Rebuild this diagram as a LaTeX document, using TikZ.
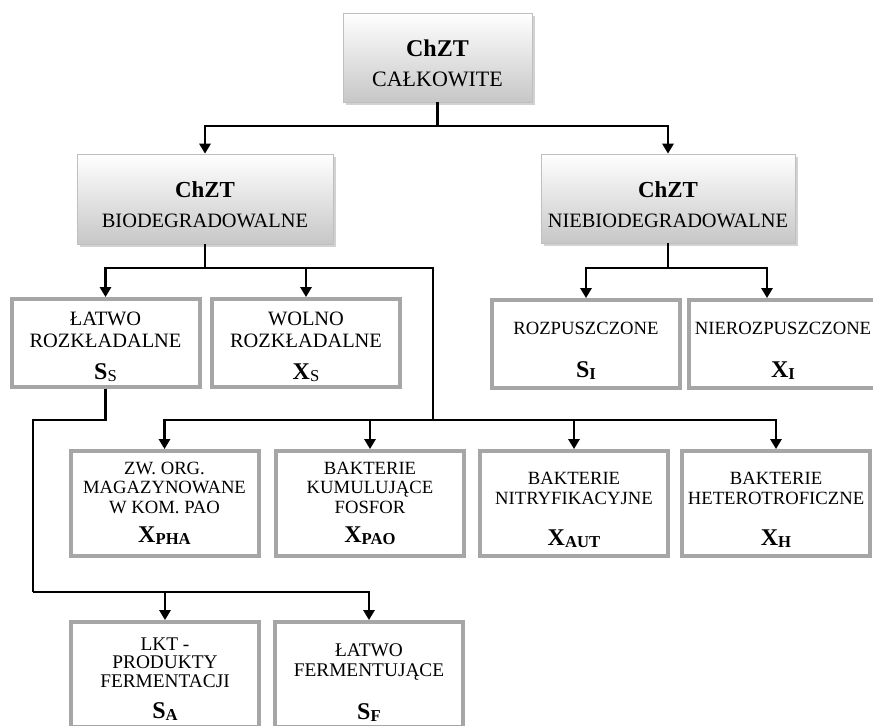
\documentclass[tikz,border=0pt]{standalone}
\usepackage{fontspec}
\setmainfont{Liberation Serif}
\usetikzlibrary{arrows.meta,shadows}

\newcommand{\symb}[2]{{\fontsize{18}{18}\selectfont\bfseries #1\raisebox{-1.5pt}{\fontsize{12.5}{12.5}\selectfont #2}}}

\begin{document}
\begin{tikzpicture}[x=0.75pt,y=-0.75pt,
        head/.style={draw=black!25, line width=0.6pt, top color=white, bottom color=black!22,
            drop shadow={shadow xshift=2pt, shadow yshift=-2pt, fill=black!35},
            align=center, inner sep=0pt},
        box/.style={draw=black!35, line width=3pt, fill=white, align=center, inner sep=0pt,
            minimum width=141pt},
        link/.style={line width=1.6pt},
        arr/.style={link, -{Triangle[width=8.5pt,length=7.5pt]}}]
            \useasboundingbox (0,0) rectangle (873,725);

            \node[head, minimum width=141.75pt, minimum height=66.75pt,
                font=\fontsize{16.5}{23}\selectfont] (top) at (437.5,57.5)
                {\rule{0pt}{21pt}{\bfseries\fontsize{18}{23}\selectfont ChZT}\\CAŁKOWITE};
            \node[head, minimum width=192pt, minimum height=67.5pt,
                font=\fontsize{15.3}{22.5}\selectfont] (bio) at (205,199)
                {\rule{0pt}{21pt}{\bfseries\fontsize{17.2}{22.5}\selectfont ChZT}\\BIODEGRADOWALNE};
            \node[head, minimum width=190.5pt, minimum height=66.75pt,
                font=\fontsize{15.3}{22.5}\selectfont] (niebio) at (668,198.5)
                {\rule{0pt}{21pt}{\bfseries\fontsize{17.2}{22.5}\selectfont ChZT}\\NIEBIODEGRADOWALNE};

            \node[box, minimum height=66pt, font=\fontsize{15.3}{16.5}\selectfont] (lat) at (105.5,343)
                {\rule{0pt}{16pt}ŁATWO\\ROZKŁADALNE\\[7pt]\symb{S}{\mdseries S}};
            \node[box, minimum height=66pt, font=\fontsize{15.3}{16.5}\selectfont] (wol) at (306,343)
                {\rule{0pt}{16pt}WOLNO\\ROZKŁADALNE\\[7pt]\symb{X}{\mdseries S}};
            \node[box, minimum height=66pt, font=\fontsize{14}{16.5}\selectfont] (roz) at (586,344)
                {\rule{0pt}{19pt}ROZPUSZCZONE\\[16pt]\symb{S}{I}};
            \node[box, minimum height=66pt, font=\fontsize{14}{16.5}\selectfont] (nier) at (783,344)
                {\rule{0pt}{19pt}NIEROZPUSZCZONE\\[16pt]\symb{X}{I}};

            \node[box, minimum height=78.75pt, font=\fontsize{14}{14.6}\selectfont] (pha) at (164.5,503.5)
                {ZW. ORG.\\MAGAZYNOWANE\\W KOM. PAO\\[7.5pt]\symb{X}{PHA}};
            \node[box, minimum height=78.75pt, font=\fontsize{14}{14.6}\selectfont] (pao) at (370,503.5)
                {BAKTERIE\\KUMULUJĄCE\\FOSFOR\\[7.5pt]\symb{X}{PAO}};
            \node[box, minimum height=78.75pt, font=\fontsize{14}{15}\selectfont] (nit) at (574,503.5)
                {\rule{0pt}{19pt}BAKTERIE\\NITRYFIKACYJNE\\[16pt]\symb{X}{AUT}};
            \node[box, minimum height=78.75pt, font=\fontsize{14}{15}\selectfont] (het) at (776,503.5)
                {\rule{0pt}{19pt}BAKTERIE\\HETEROTROFICZNE\\[16pt]\symb{X}{H}};

            \node[box, minimum height=78.75pt, font=\fontsize{14.5}{14}\selectfont] (sa) at (165,674.5)
                {\rule{0pt}{16pt}LKT -\\PRODUKTY\\FERMENTACJI\\[9pt]\symb{S}{A}};
            \node[box, minimum height=78.75pt, font=\fontsize{14.5}{15}\selectfont] (sf) at (369,674.5)
                {\rule{0pt}{22pt}ŁATWO\\FERMENTUJĄCE\\[17pt]\symb{S}{F}};

            \coordinate (split) at (433,268);
            \coordinate (row3) at (433,420);
            \coordinate (bend1) at (33,420);
            \coordinate (bend2) at (33,592);

            \foreach \n in {bio,niebio} \draw[arr] (top.south) -- ++(0,24) -| (\n.north);
            \foreach \n in {lat,wol} \draw[arr] (bio.south) -- ++(0,24) -| (\n.north);
            \draw[arr] (niebio.south) -- ++(0,25) -| (roz.north);
            \draw[arr] (niebio.south) -- ++(0,25) -| ([xshift=-12pt]nier.north);
            \draw[link] (bio.south) |- (split) -- (row3);
            \foreach \n in {pha,pao,nit,het} \draw[arr] (row3) -| (\n.north);
            \draw[link] (lat.south) |- (bend1) -- (bend2);
            \foreach \n in {sa,sf} \draw[arr] (bend2) -| (\n.north);
        \end{tikzpicture}
\end{document}
